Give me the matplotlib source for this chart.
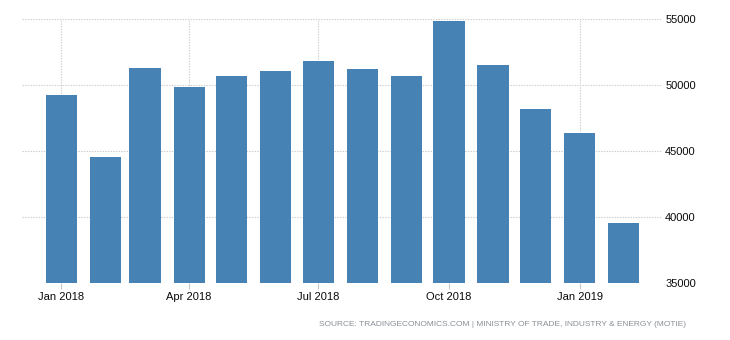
import matplotlib
matplotlib.use("Agg")
import matplotlib.pyplot as plt
import matplotlib.dates as mdates
import datetime as dt

months = ["2018-01", "2018-02", "2018-03", "2018-04", "2018-05", "2018-06", "2018-07",
          "2018-08", "2018-09", "2018-10", "2018-11", "2018-12", "2019-01", "2019-02"]
values = [49270, 44570, 51310, 49870, 50710, 51090, 51840,
          51240, 50710, 54870, 51540, 48210, 46390, 39570]
tick_dates = ["2018-01", "2018-04", "2018-07", "2018-10", "2019-01"]
tick_labels = ["Jan 2018", "Apr 2018", "Jul 2018", "Oct 2018", "Jan 2019"]
y_ticks = [35000, 40000, 45000, 50000, 55000]
source = "SOURCE: TRADINGECONOMICS.COM | MINISTRY OF TRADE, INDUSTRY & ENERGY (MOTIE)"

def to_date(s):
    y, m = s.split("-")
    return dt.date(int(y), int(m), 1)

plt.rcParams["font.family"] = ["Liberation Sans", "DejaVu Sans"]

fig = plt.figure(figsize=(7.3, 3.4), dpi=100)
ax = fig.add_axes([22 / 730, 1 - 283.3 / 340, (661 - 22) / 730, (283.3 - 19.3) / 340])

x = [mdates.date2num(to_date(m)) for m in months]
ax.bar(x, values, width=22, bottom=0, color="#4682b4", zorder=2)

ax.set_ylim(35000, 55000)
x0 = mdates.date2num(dt.date(2018, 1, 1))
ax.set_xlim(x0 - 27.7, x0 + 422.3)

ax.set_xticks([mdates.date2num(to_date(t)) for t in tick_dates])
ax.set_xticklabels(tick_labels)
ax.set_yticks(y_ticks)
ax.set_yticklabels([str(v) for v in y_ticks])

ax.yaxis.tick_right()
ax.tick_params(axis="y", length=0, pad=3, labelsize=8, colors="#0a0a0a")
ax.tick_params(axis="x", length=4, width=0.8, color="#c8c8c8", pad=2,
               labelsize=8, labelcolor="#0a0a0a")

ax.grid(True, linestyle=(0, (1.2, 1.2)), color="#cccccc", linewidth=0.8, zorder=0)
ax.set_axisbelow(True)
for s in ax.spines.values():
    s.set_visible(False)

fig.text(686 / 730, 1 - 325 / 340, source, ha="right", va="center",
         fontsize=6, color="#8a8f96")

fig.savefig("out.png", dpi=100)
